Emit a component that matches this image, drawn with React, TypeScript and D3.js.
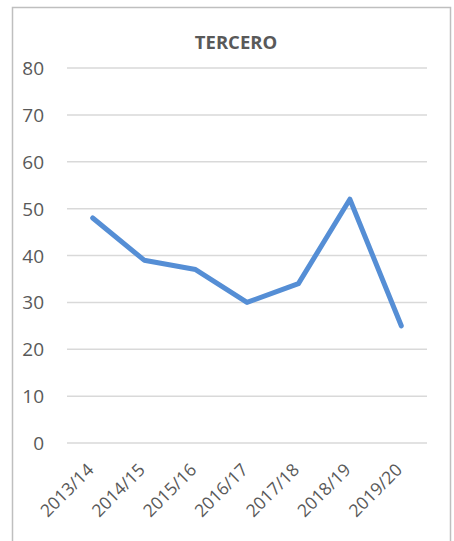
import React from "react";
import * as d3 from "d3";

const categories = ["2013/14", "2014/15", "2015/16", "2016/17", "2017/18", "2018/19", "2019/20"];
const values = [48, 39, 37, 30, 34, 52, 25];
const yTicks = [0, 10, 20, 30, 40, 50, 60, 70, 80];
const title = "TERCERO";

export default function App() {
  const W = 454, H = 541;
  const left = 67, right = 427, top = 68, bottom = 443;
  const x = d3.scalePoint<string>().domain(categories).range([left, right]).padding(0.5);
  const y = d3.scaleLinear().domain([0, 80]).range([bottom, top]);
  const line = d3.line<number>().x((_, i) => x(categories[i])!).y((d) => y(d));
  const font = "'Open Sans', 'Liberation Sans', sans-serif";
  return (
    <svg width={W} height={H} style={{ position: "absolute", left: 0, top: 0 }}>
      <rect x={0} y={0} width={W} height={H} fill="#fff" />
      <rect x={12.5} y={7.5} width={438} height={560} fill="#fff" stroke="#bfbfbf" strokeWidth={1.5} />
      <text x={236} y={49} textAnchor="middle" fontFamily={font} fontWeight="bold" fontSize={18.5} fill="#595959">{title}</text>
      {yTicks.map((t) => (
        <g key={t}>
          <line x1={left} x2={right} y1={y(t)} y2={y(t)} stroke="#d9d9d9" strokeWidth={1.5} />
          <text x={44} y={y(t) + 7} textAnchor="end" fontFamily={font} fontSize={19} fill="#595959">{t}</text>
        </g>
      ))}
      {categories.map((c) => (
        <text key={c} transform={`translate(${x(c)! + 2},${bottom + 28}) rotate(-45)`} textAnchor="end" fontFamily={font} fontSize={17.5} fill="#595959">{c}</text>
      ))}
      <path d={line(values)!} fill="none" stroke="#558ed5" strokeWidth={5} strokeLinecap="round" strokeLinejoin="round" />
    </svg>
  );
}
